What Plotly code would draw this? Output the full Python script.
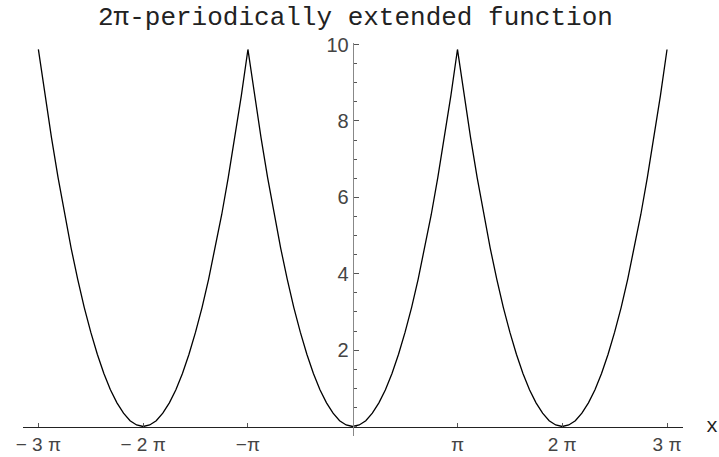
import math
import plotly.graph_objects as go

# one half-period of the curve, read at x = k*pi/16, k = 0..16 (mirror for the other half)
half_period_steps = [0, 1, 2, 3, 4, 5, 6, 7, 8, 9, 10, 11, 12, 13, 14, 15, 16]
half_period_values = [0.0, 0.04, 0.15, 0.35, 0.62, 0.96, 1.39, 1.89, 2.47,
                      3.12, 3.86, 4.67, 5.55, 6.52, 7.56, 8.67, 9.87]
period_centers = [-2, 0, 2]  # in multiples of pi

x_tick_vals = [-3, -2, -1, 1, 2, 3]  # multiples of pi
x_tick_text = ["\u2212 3 \u03c0", "\u2212 2 \u03c0", "\u2212\u03c0", "\u03c0", "2 \u03c0", "3 \u03c0"]
y_tick_vals = [2, 4, 6, 8, 10]
y_tick_text = ["2", "4", "6", "8", "10"]

title_text = "2\u03c0-periodically extended function"

xs, ys = [], []
steps_full = [-s for s in reversed(half_period_steps)] + half_period_steps[1:]
vals_full = list(reversed(half_period_values)) + half_period_values[1:]
for i, c in enumerate(period_centers):
    for j, (s, v) in enumerate(zip(steps_full, vals_full)):
        if i > 0 and j == 0:
            continue
        xs.append(c * math.pi + s * math.pi / 16)
        ys.append(v)

fig = go.Figure()
fig.add_trace(go.Scatter(x=xs, y=ys, mode="lines",
                         line=dict(color="black", width=1.3),
                         hoverinfo="skip", showlegend=False))

W, H = 719, 457
ml, mr, mt, mb = 23, 36, 43, 21
x0_px, xscale = 352.7, 33.35
y0_px, yscale = 426.5, 38.2
xr = [(ml - x0_px) / xscale, (W - mr - x0_px) / xscale]
yr = [(y0_px - (H - mb)) / yscale, (y0_px - mt) / yscale]
pw, ph = W - ml - mr, (H - mb) - mt

tickfont = dict(family="Liberation Sans, Arial, sans-serif", size=20, color="#444444")
xtickfont = dict(family="Liberation Sans, Arial, sans-serif", size=19, color="#444444")

fig.update_layout(
    width=W, height=H,
    margin=dict(l=ml, r=mr, t=mt, b=mb),
    paper_bgcolor="white", plot_bgcolor="white",
    xaxis=dict(range=xr, anchor="free", automargin=False,
               position=((H - mb) - y0_px) / ph,
               showgrid=False, zeroline=False, showline=True,
               linecolor="#222222", linewidth=1,
               tickvals=[v * math.pi for v in x_tick_vals], ticktext=x_tick_text,
               ticks="inside", ticklen=4, tickcolor="#555555", tickwidth=1,
               ticklabelstandoff=1,
               tickfont=xtickfont),
    yaxis=dict(range=yr, anchor="free", automargin=False,
               position=(x0_px - ml) / pw,
               showgrid=False, zeroline=False, showline=True,
               linecolor="#888888", linewidth=1,
               tickvals=y_tick_vals, ticktext=y_tick_text,
               ticks="inside", ticklen=5, tickcolor="#555555", tickwidth=1,
               minor=dict(ticks="inside", dtick=0.5, tick0=0, ticklen=3, tickcolor="#555555"),
               tickfont=tickfont),
    annotations=[
        dict(text=title_text, xref="paper", yref="paper", x=(355 - ml) / pw,
             y=1, yshift=25, showarrow=False, xanchor="center", yanchor="middle",
             font=dict(family="Liberation Mono, Courier New, monospace", size=26, color="#222222")),
        dict(text="x", xref="paper", yref="paper", x=(712 - ml) / pw,
             y=((H - mb) - y0_px) / ph, showarrow=False,
             xanchor="center", yanchor="middle",
             font=dict(family="Liberation Mono, Courier New, monospace", size=20, color="#222222")),
    ],
)

fig.write_html("out.html",
               config={"displayModeBar": False},
               post_script="document.body.style.margin='0';document.body.style.padding='0';"
                           "document.body.style.overflow='hidden';")
